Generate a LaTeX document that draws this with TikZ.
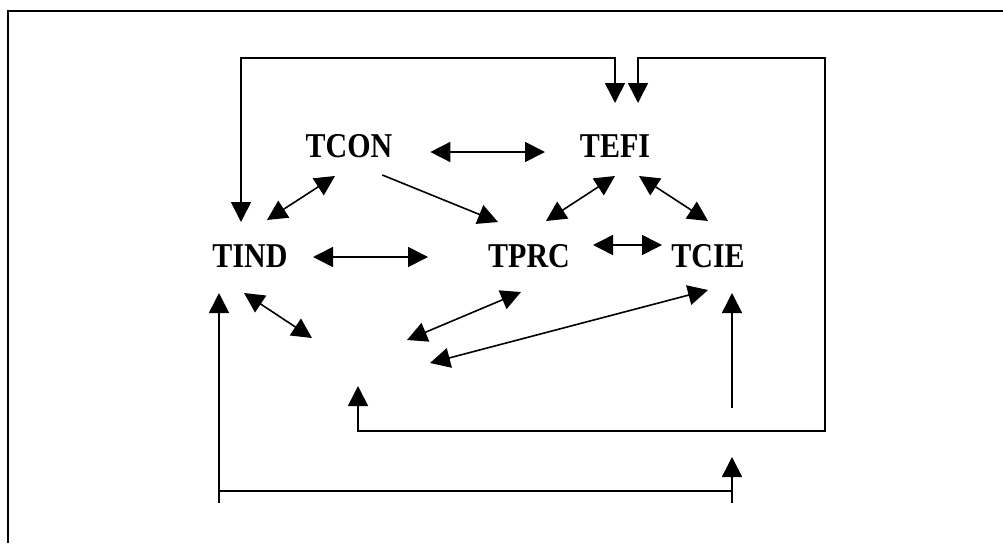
\documentclass[tikz,border=0pt]{standalone}
\usepackage{graphicx}
\usepackage{fontspec}
\setmainfont{Liberation Serif}
\usetikzlibrary{arrows.meta}
\newcommand{\vname}[1]{\scalebox{1}[1.16]{#1}}
\begin{document}
\begin{tikzpicture}[x=1pt,y=-1pt,line width=1.6pt,
  >={Triangle[length=20pt,width=20pt]},
  var/.style={font=\fontsize{30}{30}\selectfont\bfseries,inner sep=0pt,outer sep=0pt,minimum width=86pt,minimum height=24pt}]
\useasboundingbox (0,0) rectangle (1003,543);
% frame
\draw (8,543) -- (8,11) -- (1003,11);
% variables
\node [var] (tcon) at (349,146) {\vname{TCON}};
\node [var] (tefi) at (615,146) {\vname{TEFI}};
\node [var] (tind) at (250,256) {\vname{TIND}};
\node [var] (tprc) at (529,256) {\vname{TPRC}};
\node [var] (tcie) at (708,256) {\vname{TCIE}};
\coordinate (hole) at (370,350);
\coordinate (cin) at (732,408);
\coordinate (bl) at (219,503);
\coordinate (br) at (732,503);
% links between variables
\draw [<->] ([shift={(38,6)}]tcon.east) -- ([shift={(-27,6)}]tefi.west);
\draw [<->] ([shift={(20,1)}]tind.east) -- ([shift={(-58,1)}]tprc.west);
\draw [<->] ([shift={(-26,-24)}]tind.north east) -- ([shift={(-14,18)}]tcon.south);
\draw [->] ([shift={(-10,17)}]tcon.south east) -- ([shift={(12,-22)}]tprc.north west);
\draw [<->] ([shift={(0,18)}]tefi.south) -- ([shift={(-26,-23)}]tprc.north east);
\draw [<->] ([shift={(24,18)}]tefi.south) -- ([shift={(0,-23)}]tcie.north);
\draw [<->] ([shift={(21,-11)}]tprc.east) -- ([shift={(-3,-11)}]tcie.west);
\draw [<->] ([shift={(-6,25)}]tind.south) -- ([shift={(-58,-12)}]hole);
\draw [<->] ([shift={(-8,24)}]tprc.south) -- ([shift={(37,-10)}]hole);
\draw [<->] ([shift={(0,22)}]tcie.south) -- ([shift={(60,13)}]hole);
\draw [->] (cin) -- ([shift={(24,25)}]tcie.south);
% feedback loops
\draw [<->] ([shift={(-9,-22)}]tind.north) |- ([shift={(0,-76)}]tefi.north) -- ([shift={(0,-31)}]tefi.north);
\draw [<->] ([shift={(23,-31)}]tefi.north) -- ([shift={(23,-76)}]tefi.north) -| (825,431) -| ([shift={(-12,36)}]hole);
\draw [->] (bl) -- ([shift={(-31,25)}]tind.south);
\draw [->] (br) -- ++(0,-46);
\draw (219,491) -- (732,491);
\end{tikzpicture}
\end{document}
